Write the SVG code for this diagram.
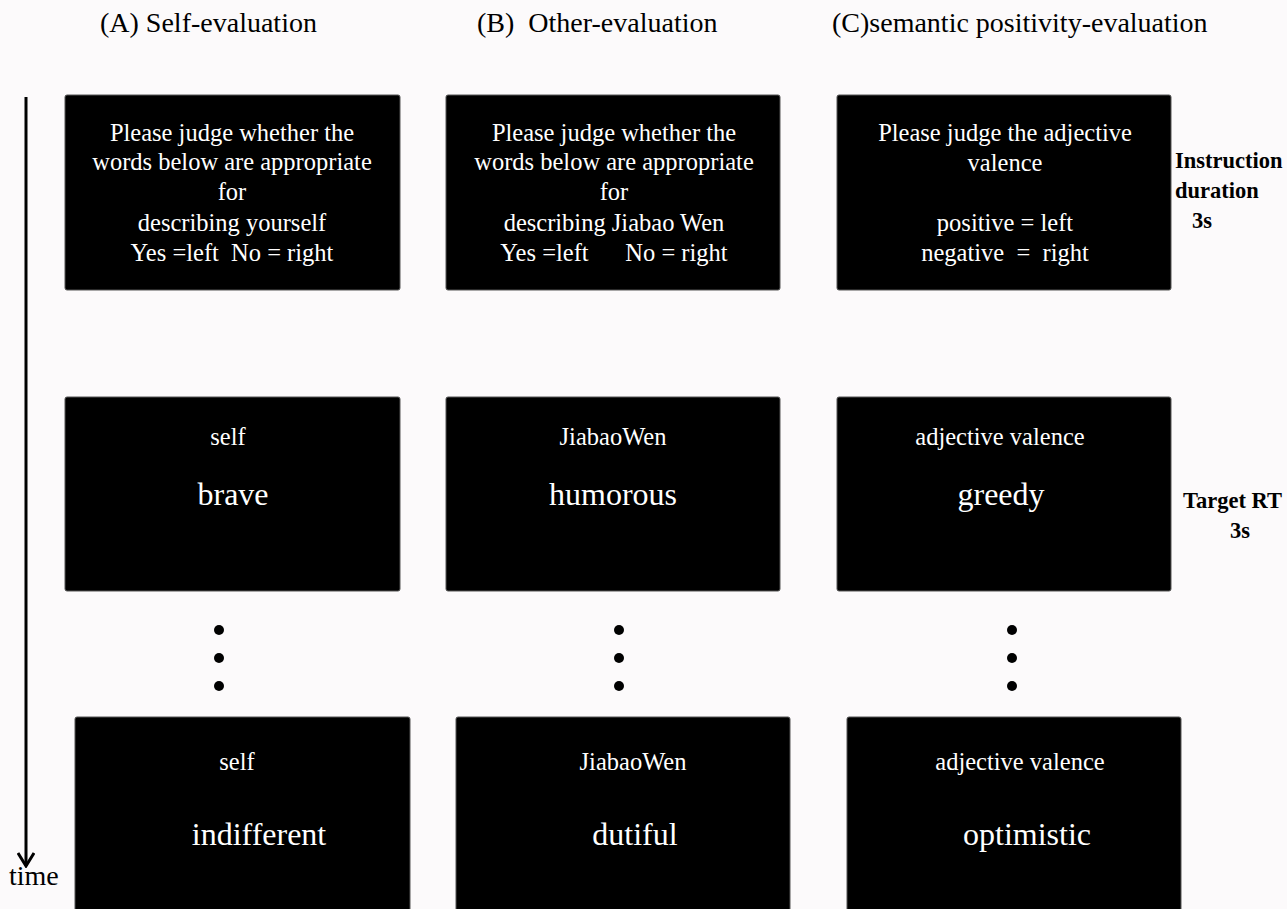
<svg xmlns="http://www.w3.org/2000/svg" width="1287" height="909" viewBox="0 0 1287 909">
<defs>
<style>
.bg{fill:#fcfafb}
.box{fill:#000;stroke:#555;stroke-width:1}
.hd{font-family:"Liberation Serif","Times New Roman",serif;font-size:28px;fill:#000}
.wt{font-family:"Liberation Serif","Times New Roman",serif;font-size:24.5px;fill:#fff;text-anchor:middle}
.sm{font-family:"Liberation Serif","Times New Roman",serif;font-size:24.5px;fill:#fff;text-anchor:middle}
.big{font-family:"Liberation Serif","Times New Roman",serif;font-size:32px;fill:#fff;text-anchor:middle}
.lab{font-family:"Liberation Serif","Times New Roman",serif;font-size:22.5px;font-weight:bold;fill:#000}
.dot{fill:#000}
</style>
<marker id="ah" markerWidth="16" markerHeight="18" refX="14" refY="9" orient="auto" markerUnits="userSpaceOnUse">
<path d="M1,1 L14,9 L1,17" fill="none" stroke="#000" stroke-width="3"/>
</marker>
</defs>
<rect class="bg" x="0" y="0" width="1287" height="909"/>
<g id="headers">
<text class="hd" x="100" y="32">(A) Self-evaluation</text>
<text class="hd" x="477" y="32" xml:space="preserve">(B)  Other-evaluation</text>
<text class="hd" x="832" y="32">(C)semantic positivity-evaluation</text>
</g>
<g id="connectors">
<line x1="26" y1="97" x2="26" y2="866" stroke="#000" stroke-width="3" marker-end="url(#ah)"/>
</g>
<g id="time-label"><text class="hd" x="9" y="885">time</text></g>
<g id="instrA">
<rect class="box" x="65" y="95" width="335" height="195" rx="2"/>
<text class="wt" x="232" y="141">Please judge whether the</text>
<text class="wt" x="232" y="170">words below are appropriate</text>
<text class="wt" x="232" y="200">for</text>
<text class="wt" x="232" y="231">describing yourself</text>
<text class="wt" x="232" y="261" xml:space="preserve">Yes =left  No = right</text>
</g>
<g id="instrB">
<rect class="box" x="446" y="95" width="334" height="195" rx="2"/>
<text class="wt" x="614" y="141">Please judge whether the</text>
<text class="wt" x="614" y="170">words below are appropriate</text>
<text class="wt" x="614" y="200">for</text>
<text class="wt" x="614" y="231">describing Jiabao Wen</text>
<text class="wt" x="614" y="261" xml:space="preserve">Yes =left      No = right</text>
</g>
<g id="instrC">
<rect class="box" x="837" y="95" width="334" height="195" rx="2"/>
<text class="wt" x="1005" y="141">Please judge the adjective</text>
<text class="wt" x="1005" y="171">valence</text>
<text class="wt" x="1005" y="231">positive = left</text>
<text class="wt" x="1005" y="261" xml:space="preserve">negative  =  right</text>
</g>
<g id="label-instruction">
<text class="lab" x="1175" y="168">Instruction</text>
<text class="lab" x="1175" y="198">duration</text>
<text class="lab" x="1192" y="228">3s</text>
</g>
<g id="targetA">
<rect class="box" x="65" y="397" width="335" height="194" rx="2"/>
<text class="sm" x="228" y="445">self</text>
<text class="big" x="233" y="505">brave</text>
</g>
<g id="targetB">
<rect class="box" x="446" y="397" width="334" height="194" rx="2"/>
<text class="sm" x="613" y="445">JiabaoWen</text>
<text class="big" x="613" y="505">humorous</text>
</g>
<g id="targetC">
<rect class="box" x="837" y="397" width="334" height="194" rx="2"/>
<text class="sm" x="1000" y="445">adjective valence</text>
<text class="big" x="1001" y="505">greedy</text>
</g>
<g id="label-target">
<text class="lab" x="1183" y="508">Target RT</text>
<text class="lab" x="1230" y="538">3s</text>
</g>
<g id="dotsA"><circle class="dot" cx="219" cy="630" r="5"/><circle class="dot" cx="219" cy="658" r="5"/><circle class="dot" cx="219" cy="686" r="5"/></g>
<g id="dotsB"><circle class="dot" cx="619" cy="630" r="5"/><circle class="dot" cx="619" cy="658" r="5"/><circle class="dot" cx="619" cy="686" r="5"/></g>
<g id="dotsC"><circle class="dot" cx="1012" cy="630" r="5"/><circle class="dot" cx="1012" cy="658" r="5"/><circle class="dot" cx="1012" cy="686" r="5"/></g>
<g id="lastA">
<rect class="box" x="75" y="717" width="335" height="200" rx="2"/>
<text class="sm" x="237" y="770">self</text>
<text class="big" x="259" y="845">indifferent</text>
</g>
<g id="lastB">
<rect class="box" x="456" y="717" width="334" height="200" rx="2"/>
<text class="sm" x="633" y="770">JiabaoWen</text>
<text class="big" x="635" y="845">dutiful</text>
</g>
<g id="lastC">
<rect class="box" x="847" y="717" width="334" height="200" rx="2"/>
<text class="sm" x="1020" y="770">adjective valence</text>
<text class="big" x="1027" y="845">optimistic</text>
</g>
</svg>
